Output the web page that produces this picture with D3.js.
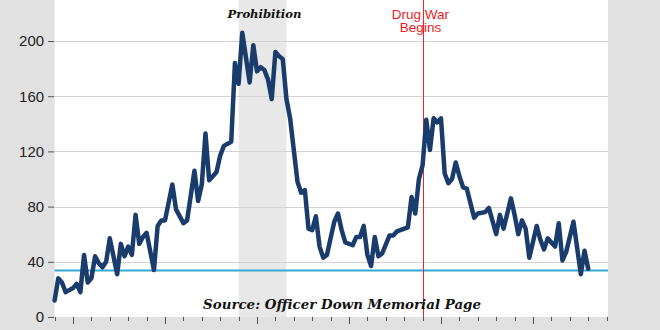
<!DOCTYPE html>
<html>
<head>
<meta charset="utf-8">
<script src="https://cdn.jsdelivr.net/npm/d3@7"></script>
<style>
html,body{margin:0;padding:0;background:#e1e1e1;}
svg{display:block;}
</style>
</head>
<body>
<svg id="chart" width="660" height="330"></svg>
<script>
const years = [1870,1871,1872,1873,1875,1876,1877,1878,1879,1880,1881,1882,1883,1884,1885,1887,1888,1889,1890,1891,1892,1893,1894,1895,1897,1898,1899,1900,1902,1903,1905,1906,1908,1909,1910,1911,1912,1913,1914,1915,1916,1918,1919,1920,1921,1923,1924,1925,1926,1927,1928,1929,1930,1931,1932,1933,1934,1936,1937,1938,1939,1940,1941,1942,1943,1944,1945,1946,1947,1948,1949,1951,1952,1953,1954,1955,1956,1957,1958,1959,1961,1962,1963,1966,1967,1968,1969,1970,1971,1972,1973,1974,1975,1976,1977,1978,1979,1980,1981,1982,1984,1985,1987,1988,1990,1991,1992,1994,1995,1996,1997,1998,1999,2001,2002,2003,2004,2005,2006,2007,2008,2009,2011,2013,2014,2015];
const deaths = [12,28,25,18,21,24,18,45,25,28,44,39,36,40,57,31,53,44,51,45,74,53,58,61,34,66,70,70,96,78,68,70,106,84,96,133,99,102,105,117,124,127,184,169,206,170,197,178,181,179,172,158,192,189,187,158,144,98,90,92,64,63,73,51,43,45,57,69,75,63,54,52,58,58,66,45,37,58,44,46,59,59,62,65,87,75,100,110,143,121,144,141,144,104,97,100,112,102,94,93,72,75,76,79,60,74,64,86,74,60,70,64,43,66,56,49,57,54,51,68,41,47,69,31,48,35];
const yTicks = [0,40,80,120,160,200];
const xDomain = [1870,2020];
const prohibition = [1920,1933];
const drugWarYear = 1970;
const referenceLevel = 33.7;
const annotations = {prohibition:"Prohibition", drugWar:["Drug War","Begins"], source:"Source: Officer Down Memorial Page"};

const svg = d3.select("#chart");
const pLeft = 54.6, pRight = 608, pTop = 0, pBottom = 317;
const x = d3.scaleLinear().domain(xDomain).range([pLeft, pLeft + 150*3.68]);
const y = d3.scaleLinear().domain([0,200]).range([pBottom, 41]);

// background
svg.append("rect").attr("width",660).attr("height",330).attr("fill","#e1e1e1");
svg.append("rect").attr("x",pLeft).attr("y",pTop).attr("width",pRight-pLeft).attr("height",pBottom-pTop).attr("fill","#ffffff");

// prohibition band
svg.append("rect").attr("x",x(prohibition[0])).attr("y",pTop)
  .attr("width",x(prohibition[1])-x(prohibition[0])).attr("height",pBottom-pTop).attr("fill","#e8e8e8");

// gridlines
svg.append("g").selectAll("line").data(yTicks.filter(d=>d>0)).join("line")
  .attr("x1",pLeft).attr("x2",pRight).attr("y1",d=>Math.round(y(d))+0.5).attr("y2",d=>Math.round(y(d))+0.5)
  .attr("stroke","#d3d3d3").attr("stroke-width",1);

// y axis
const yAxis = d3.axisLeft(y).tickValues(yTicks).tickSize(6).tickPadding(4).tickFormat(d3.format("d"));
const gy = svg.append("g").attr("transform",`translate(${pLeft-0.5},0)`).call(yAxis);
gy.select(".domain").remove();
gy.selectAll(".tick line").attr("stroke","#555");
gy.selectAll(".tick text").attr("fill","#222").style("font-family","Arial, 'Liberation Sans', sans-serif").style("font-size","15px");

// x axis ticks (no labels)
const minorTicks = d3.range(1870, 2021, 5);
const gx = svg.append("g").attr("transform",`translate(0,${pBottom})`);
gx.selectAll("line").data(minorTicks).join("line")
  .attr("x1",d=>Math.round(x(d))+0.5).attr("x2",d=>Math.round(x(d))+0.5)
  .attr("y1",0).attr("y2",d=> (d-1875)%25===0 ? 7 : 4)
  .attr("stroke","#555").attr("stroke-width",1);

// reference line
svg.append("line").attr("x1",pLeft).attr("x2",pRight).attr("y1",y(referenceLevel)).attr("y2",y(referenceLevel))
  .attr("stroke","#33a9d2").attr("stroke-width",2);

// drug war line
svg.append("line").attr("x1",Math.round(x(drugWarYear))+0.5).attr("x2",Math.round(x(drugWarYear))+0.5)
  .attr("y1",0).attr("y2",pBottom).attr("stroke","#e8262b").attr("stroke-width",1);

// data line
const data = years.map((yr,i)=>({year:yr, value:deaths[i]}));
const line = d3.line().x(d=>x(d.year)).y(d=>y(d.value));
svg.append("path").datum(data).attr("d",line).attr("fill","none")
  .attr("stroke","#1a3c6c").attr("stroke-width",4.5).attr("stroke-linejoin","round").attr("stroke-linecap","round");

// annotations
function fit(textSel, target){
  const w = textSel.node().getComputedTextLength();
  const fs = parseFloat(textSel.style("font-size"));
  if (w > 0) textSel.style("font-size", (fs*target/w).toFixed(2)+"px");
}
const serif = "Georgia, 'DejaVu Serif', serif";
const t1 = svg.append("text").attr("x",264.5).attr("y",17.5).attr("text-anchor","middle")
  .style("font-family",serif).style("font-weight","bold").style("font-style","italic").style("font-size","12px")
  .attr("fill","#111").text(annotations.prohibition);
fit(t1, 74);
const dw = svg.append("g").attr("fill","#ee1d25").style("font-family","Arial, 'Liberation Sans', sans-serif").style("font-size","13.5px");
dw.append("text").attr("x",420.5).attr("y",18.5).attr("text-anchor","middle").text(annotations.drugWar[0]);
dw.append("text").attr("x",420.5).attr("y",32).attr("text-anchor","middle").text(annotations.drugWar[1]);
const t2 = svg.append("text").attr("x",342).attr("y",308.5).attr("text-anchor","middle")
  .style("font-family",serif).style("font-weight","bold").style("font-style","italic").style("font-size","12px")
  .attr("fill","#111").text(annotations.source);
fit(t2, 278);
</script>
</body>
</html>
